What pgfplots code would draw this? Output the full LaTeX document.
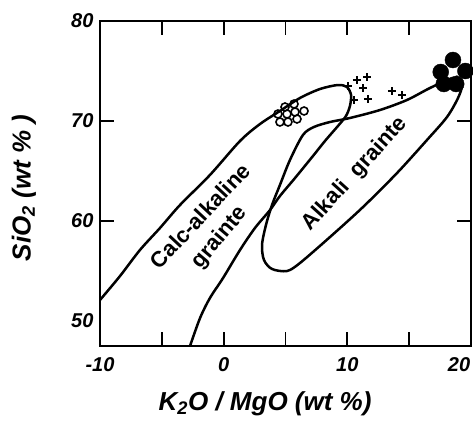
\documentclass[border=0pt]{standalone}
\usepackage{fontspec}
\setmainfont{Liberation Sans}
\usepackage{pgfplots}
\pgfplotsset{compat=1.18}

\begin{document}
\begin{tikzpicture}
\path[use as bounding box] (-100pt,-75pt) rectangle (373pt,346pt);
\begin{axis}[
  at={(0,0)}, anchor=south west,
  scale only axis, width=371pt, height=325pt,
  xmin=-10, xmax=20, ymin=47.5, ymax=80,
  xtick={-10,-5,...,15}, xticklabels={-10,,0,,10,},
  extra x ticks={20}, extra x tick labels={20},
  extra x tick style={xticklabel style={xshift=-12pt}},
  ytick={60,70}, yticklabels={60,70},
  extra y ticks={50,80}, extra y tick labels={50,80},
  extra y tick style={major tick length=0pt},
  tick align=inside, major tick length=14pt,
  axis line style={line width=2.2pt},
  tick style={line width=1.8pt, black},
  ticklabel style={font=\fontsize{20}{22}\selectfont\bfseries\itshape},
  yticklabel style={xshift=-3pt},
  xticklabel style={yshift=-8pt},
  xlabel={K\textsubscript{2}O / MgO (wt \%)},
  ylabel={SiO\textsubscript{2} (wt \% )},
  label style={font=\fontsize{26}{29}\selectfont\bfseries\itshape},
  xlabel style={at={(axis description cs:0.445,-0.178)}, anchor=center},
  ylabel style={at={(axis description cs:-0.205,0.486)}, anchor=center},
]
% calc-alkaline granite field
\addplot[line width=2.5pt, smooth, tension=0.5] coordinates {
  (-10,52.1) (-8.38,54.5) (-6.77,57.1) (-5.15,59.3) (-3.53,61.6)
  (-1.11,64.6) (1.32,68.0) (2.94,69.7) (4.55,71.0) (6.17,72.3)
  (7.79,73.2) (9.24,73.6) (9.97,73.4) (10.30,72.6) (10.21,71.5)
  (9.89,70.5) (9.24,69.5) (8.19,68.0) (7.22,66.5) (5.77,64.3)
  (4.55,62.5) (3.75,61.1) (2.53,59.3) (1.32,57.1) (-0.05,54.3)
  (-1.11,52.3) (-1.91,50.3) (-2.72,47.5)
};
% alkali granite field
\addplot[line width=2.5pt, smooth, tension=0.5] coordinates {
  (18.46,74.3) (16.68,73.3) (14.82,72.1) (12.64,71.1) (10.21,70.3)
  (8.60,69.9) (7.30,69.4) (6.41,68.6) (5.36,66.1) (4.55,63.6)
  (3.91,61.6) (3.42,59.6) (3.10,57.6) (3.26,56.1) (3.91,55.2)
  (5.12,55.0) (6.17,55.8) (8.60,58.4) (11.27,61.4) (14.02,64.8)
  (16.44,68.1) (18.06,70.4) (18.95,72.3) (19.27,73.6) (18.79,74.5)
};
% open circles
\addplot[only marks, mark=o, mark size=4pt, line width=1.6pt,
         mark options={fill=white}] coordinates {
  (4.96,71.4) (5.69,71.7) (4.39,70.7) (5.12,70.7) (5.77,70.9)
  (6.50,71.0) (4.55,69.9) (5.20,69.9) (5.93,70.2)
};
% crosses
\addplot[only marks, mark=+, mark size=4pt, line width=1.8pt] coordinates {
  (10.05,73.5) (10.78,74.1) (11.59,74.4) (11.27,73.3)
  (10.54,72.1) (11.67,72.2) (13.61,73.0) (14.42,72.6)
};
% filled circles
\addplot[only marks, mark=*, mark size=8pt, black] coordinates {
  (18.54,76.1) (17.55,74.9) (19.55,75.0) (17.80,73.7) (18.80,73.7)
};
\node[rotate=47, font=\fontsize{22}{24}\selectfont\bfseries]
  at (axis cs:-1.91,60.5) {Calc-alkaline};
\node[rotate=50, font=\fontsize{22}{24}\selectfont\bfseries]
  at (axis cs:-0.30,58.3) {grainte};
\node[rotate=48, font=\fontsize{22}{24}\selectfont\bfseries]
  at (axis cs:10.62,64.7) {Alkali\ \ grainte};
\end{axis}
\end{tikzpicture}
\end{document}
